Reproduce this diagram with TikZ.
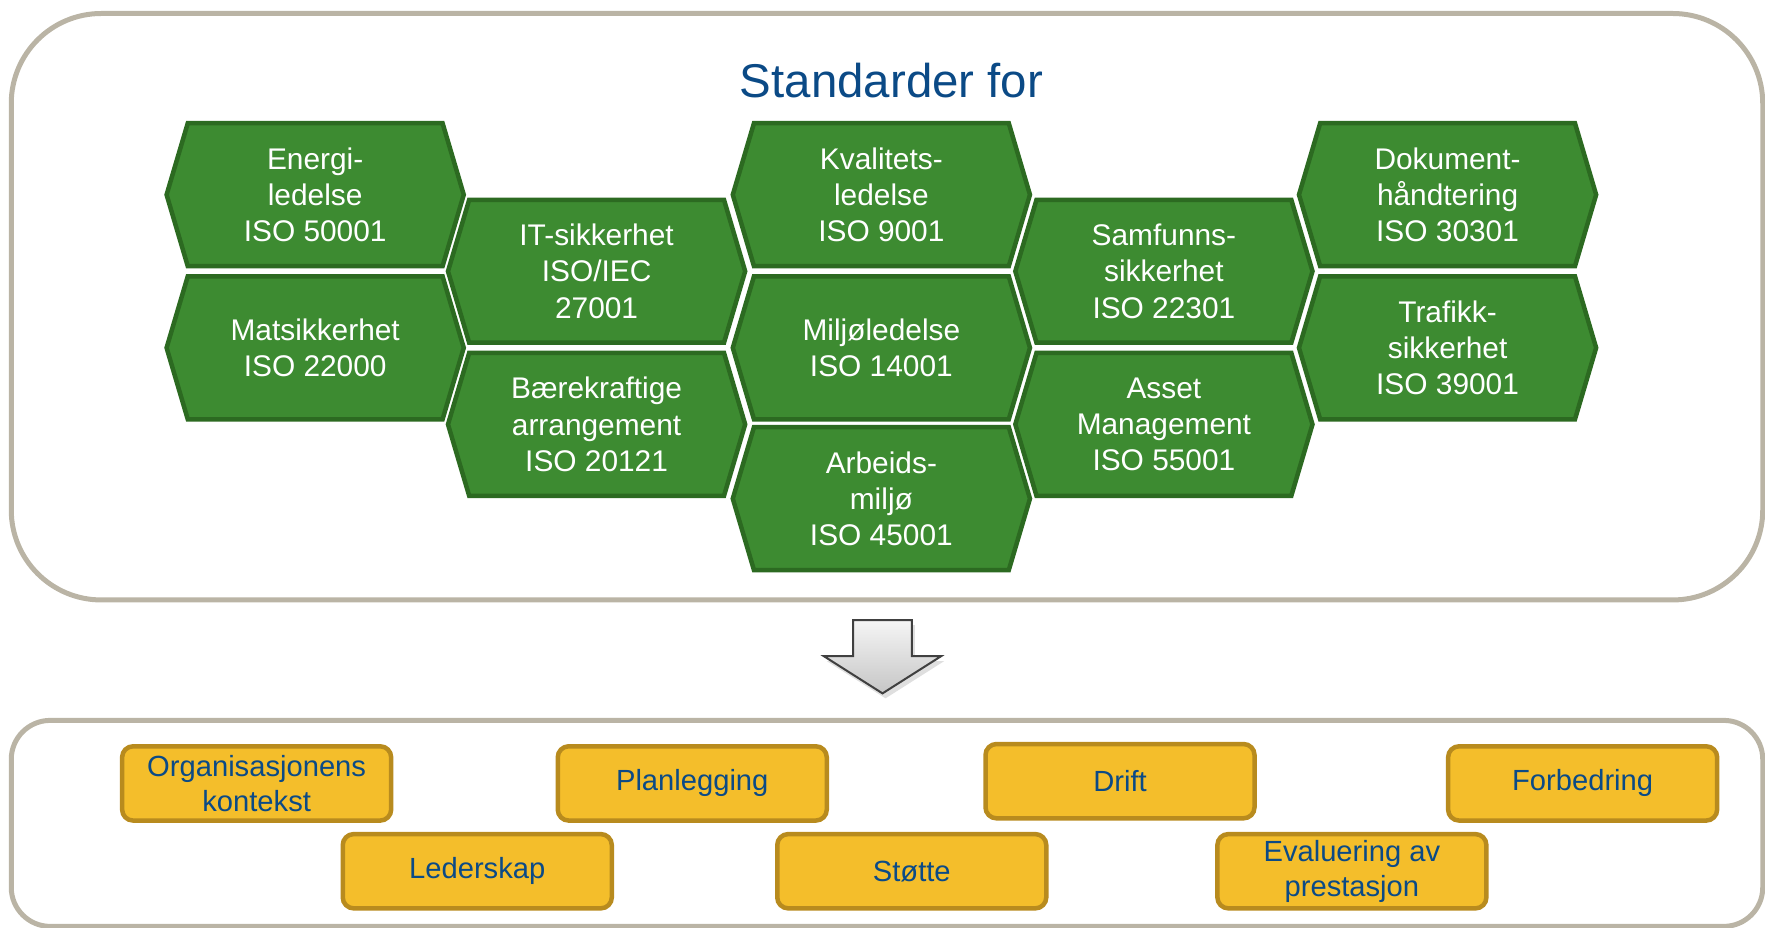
\documentclass[tikz,border=0pt]{standalone}
\usepackage{fontspec}
\setmainfont{Liberation Sans}
\usepackage{tikz}
\usetikzlibrary{shapes.symbols,shadows}

\def\px{0.011256cm}
\definecolor{hexgreen}{HTML}{3D8B31}
\definecolor{hexline}{HTML}{2C6A21}
\definecolor{taskyellow}{HTML}{F4BE2B}
\definecolor{taskline}{HTML}{B88B1E}
\definecolor{titleblue}{HTML}{0B4A86}
\definecolor{framegray}{HTML}{BAB4A5}

\begin{document}
\begin{tikzpicture}[x=\px,y=-\px,
    hex/.style={signal,signal to=west and east,signal pointer angle=147,draw=hexline,fill=hexgreen,line width=0.045cm,minimum width=264*\px,minimum height=127*\px,inner sep=0pt,text=white,align=center,font=\fontsize{8.5}{10.3}\selectfont},
    task/.style={rectangle,rounded corners=0.11cm,draw=taskline,fill=taskyellow,line width=0.045cm,minimum width=239*\px,minimum height=66*\px,inner sep=0pt,text=titleblue,align=center,font=\fontsize{8.3}{9.9}\selectfont},
    frame/.style={draw=framegray,line width=0.05cm}]

      \useasboundingbox (0,0) rectangle (1568,824.4);

      \draw[frame,rounded corners=0.9cm] (10,12) rectangle (1566,533);
      \draw[frame,rounded corners=0.39cm] (10,640) rectangle (1566,823);

      \node[text=titleblue,font=\fontsize{13.5}{16}\selectfont] (title) at (792,72){Standarder for};

      \node[hex] (en) at (280,173){Energi-\\ledelse\\ISO 50001};
      \node[hex] (mat) at (280,309){Matsikkerhet\\ISO 22000};
      \node[hex] (it) at (530,241){IT-sikkerhet\\ISO/IEC\\27001};
      \node[hex] (bk) at (530,377){Bærekraftige\\arrangement\\ISO 20121};
      \node[hex] (kv) at (783,173){Kvalitets-\\ledelse\\ISO 9001};
      \node[hex] (mi) at (783,309){Miljøledelse\\ISO 14001};
      \node[hex] (ar) at (783,443){Arbeids-\\miljø\\ISO 45001};
      \node[hex] (sa) at (1034,241){Samfunns-\\sikkerhet\\ISO 22301};
      \node[hex] (as) at (1034,377){Asset\\Management\\ISO 55001};
      \node[hex] (do) at (1286,173){Dokument-\\håndtering\\ISO 30301};
      \node[hex] (tr) at (1286,309){Trafikk-\\sikkerhet\\ISO 39001};

      \draw[draw=black!75,line width=0.02cm,top color=gray!8,bottom color=gray!45,
        drop shadow={opacity=0.25,shadow xshift=0.03cm,shadow yshift=-0.05cm}]
        (758,551) -- (810,551) -- (810,583) -- (836,583) -- (784,616) -- (732,583) -- (758,583) -- cycle;

      \node[task] (org) at (228,696){Organisasjonens\\kontekst};
      \node[task] (pla) at (615,696){Planlegging};
      \node[task] (dri) at (995,694){Drift};
      \node[task] (forb) at (1406,696){Forbedring};
      \node[task] (led) at (424,774){Lederskap};
      \node[task] (sto) at (810,774){Støtte};
      \node[task] (eva) at (1201,774){Evaluering av\\prestasjon};

    \end{tikzpicture}
\end{document}
